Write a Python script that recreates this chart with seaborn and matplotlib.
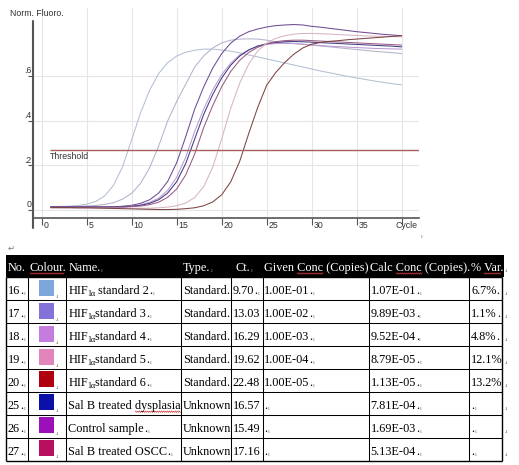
import numpy as np
import pandas as pd
import matplotlib
matplotlib.use("Agg")
import matplotlib.pyplot as plt
from matplotlib.transforms import blended_transform_factory
from matplotlib.patches import Rectangle
import seaborn as sns

# ---------------- chart data ----------------
cycles = list(range(1, 41))

std2 = [0.015, 0.016, 0.017, 0.020, 0.026, 0.038, 0.063, 0.112, 0.195, 0.315,
        0.437, 0.537, 0.611, 0.660, 0.689, 0.706, 0.715, 0.720, 0.720, 0.716,
        0.711, 0.703, 0.694, 0.685, 0.676, 0.667, 0.658, 0.649, 0.640, 0.631,
        0.622, 0.614, 0.606, 0.598, 0.591, 0.584, 0.577, 0.571, 0.565, 0.560]
std3 = [0.015, 0.015, 0.015, 0.016, 0.018, 0.020, 0.025, 0.033, 0.049, 0.075,
        0.120, 0.190, 0.287, 0.399, 0.486, 0.563, 0.640, 0.690, 0.725, 0.748,
        0.760, 0.765, 0.766, 0.765, 0.760, 0.752, 0.748, 0.745, 0.742, 0.738,
        0.734, 0.730, 0.726, 0.722, 0.718, 0.714, 0.710, 0.707, 0.704, 0.700]
control = [0.012, 0.012, 0.012, 0.012, 0.012, 0.012, 0.012, 0.014, 0.017, 0.021,
           0.030, 0.046, 0.076, 0.128, 0.212, 0.328, 0.452, 0.551, 0.635, 0.700,
           0.747, 0.778, 0.798, 0.810, 0.819, 0.825, 0.828, 0.830, 0.828, 0.822,
           0.818, 0.813, 0.808, 0.803, 0.798, 0.794, 0.790, 0.786, 0.783, 0.780]
std4 = [0.013, 0.013, 0.013, 0.013, 0.013, 0.013, 0.013, 0.013, 0.013, 0.018,
        0.023, 0.034, 0.053, 0.088, 0.147, 0.236, 0.352, 0.452, 0.537, 0.606,
        0.657, 0.694, 0.717, 0.732, 0.741, 0.745, 0.746, 0.745, 0.742, 0.739,
        0.736, 0.733, 0.731, 0.729, 0.727, 0.725, 0.723, 0.722, 0.721, 0.720]
dysplasia = [0.014, 0.014, 0.014, 0.014, 0.014, 0.014, 0.014, 0.014, 0.014, 0.017,
             0.021, 0.030, 0.046, 0.076, 0.127, 0.208, 0.318, 0.428, 0.517, 0.591,
             0.648, 0.689, 0.716, 0.734, 0.744, 0.750, 0.753, 0.754, 0.753, 0.751,
             0.749, 0.747, 0.745, 0.743, 0.741, 0.739, 0.737, 0.735, 0.733, 0.730]
oscc = [0.012, 0.012, 0.012, 0.012, 0.012, 0.012, 0.012, 0.012, 0.012, 0.015,
        0.018, 0.024, 0.035, 0.057, 0.094, 0.157, 0.251, 0.369, 0.467, 0.552,
        0.620, 0.670, 0.705, 0.728, 0.744, 0.753, 0.758, 0.760, 0.760, 0.758,
        0.756, 0.754, 0.752, 0.750, 0.748, 0.746, 0.744, 0.742, 0.740, 0.738]
std5 = [0.008, 0.008, 0.008, 0.008, 0.008, 0.008, 0.008, 0.008, 0.008, 0.008,
        0.008, 0.008, 0.010, 0.013, 0.019, 0.031, 0.056, 0.105, 0.191, 0.319,
        0.455, 0.568, 0.653, 0.712, 0.747, 0.768, 0.780, 0.787, 0.790, 0.790,
        0.789, 0.787, 0.785, 0.783, 0.781, 0.779, 0.778, 0.777, 0.776, 0.775]
std6 = [0.012, 0.011, 0.011, 0.010, 0.010, 0.009, 0.008, 0.007, 0.006, 0.005,
        0.004, 0.003, 0.002, 0.002, 0.003, 0.006, 0.010, 0.019, 0.036, 0.068,
        0.126, 0.218, 0.342, 0.459, 0.559, 0.615, 0.660, 0.697, 0.725, 0.742,
        0.750, 0.755, 0.758, 0.762, 0.765, 0.768, 0.771, 0.774, 0.777, 0.780]

curve_names = ["HIF standard 2", "HIF standard 3", "Control sample", "HIF standard 4",
               "Sal B treated dysplasia", "Sal B treated OSCC", "HIF standard 5",
               "HIF standard 6"]
curve_values = [std2, std3, control, std4, dysplasia, oscc, std5, std6]
curve_colors = ["#b3c0d2", "#b4b2cb", "#6e4c94", "#bb9ad3", "#403a84", "#9a5a84",
                "#d6b5c4", "#7c4444"]

threshold = 0.268
x_ticks = [0, 5, 10, 15, 20, 25, 30, 35, 40]
x_tick_labels = ["0", "5", "10", "15", "20", "25", "30", "35", "Cycle"]
y_ticks = [0, 0.2, 0.4, 0.6]
y_tick_labels = ["0", ".2", ".4", ".6"]

# ---------------- table data ----------------
header = ["No.", "Colour.", "Name.", "Type.", "Ct.", "Given Conc (Copies)",
          "Calc Conc (Copies).", "% Var."]
row_no = ["16", "17", "18", "19", "20", "25", "26", "27"]
row_colour = ["#7da7dc", "#8472d8", "#c47ddf", "#e385bd", "#b00010", "#0a10a8",
              "#9b10b8", "#b8105e"]
row_name = ["HIF{1α} standard 2", "HIF{1α}standard 3", "HIF{1α}standard 4",
            "HIF{1α}standard 5", "HIF{1α}standard 6", "Sal B treated dysplasia",
            "Control sample", "Sal B treated OSCC"]
row_type = ["Standard", "Standard", "Standard", "Standard", "Standard",
            "Unknown", "Unknown", "Unknown"]
row_ct = ["9.70", "13.03", "16.29", "19.62", "22.48", "16.57", "15.49", "17.16"]
row_given = ["1.00E-01", "1.00E-02", "1.00E-03", "1.00E-04", "1.00E-05", "", "", ""]
row_calc = ["1.07E-01", "9.89E-03", "9.52E-04", "8.79E-05", "1.13E-05",
            "7.81E-04", "1.69E-03", "5.13E-04"]
row_var = ["6.7%", "1.1%", "4.8%", "12.1%", "13.2%", "", "", ""]

# ---------------- figure ----------------
sns.set_theme(style="white")
plt.rcParams["font.family"] = ["Liberation Sans", "DejaVu Sans"]

W, H = 519, 465
fig = plt.figure(figsize=(W / 100, H / 100), dpi=100)
fig.patch.set_facecolor("white")

ax2 = fig.add_axes([0, 0, 1, 1], zorder=0)
ax2.set_xlim(0, W)
ax2.set_ylim(H, 0)
ax2.axis("off")

ax = fig.add_axes([33 / W, 1 - 218 / H, 386 / W, 210 / H], zorder=1)

rows = []
for name, vals in zip(curve_names, curve_values):
    for c, v in zip(cycles, vals):
        rows.append((name, c, v))
df = pd.DataFrame(rows, columns=["sample", "cycle", "fluoro"])

sns.lineplot(data=df, x="cycle", y="fluoro", hue="sample", hue_order=curve_names,
             palette=curve_colors, linewidth=0.75, legend=False, estimator=None, ax=ax)

x0, x1 = -0.967, 41.92
ax.set_xlim(x0, x1)
ax.set_ylim(-0.0358, 0.904)
ax.set_xlabel("")
ax.set_ylabel("")
ax.set_xticks(x_ticks)
ax.set_yticks(y_ticks)
ax.grid(True, color="#e6e6e6", linewidth=0.8)
ax.set_axisbelow(True)
ax.tick_params(axis="x", direction="out", length=5, width=0.8, colors="#555555",
               labelbottom=False, bottom=True)
ax.tick_params(axis="y", direction="out", length=3.6, width=0.8, colors="#555555",
               labelleft=False, left=True)
for s in ["top", "right", "left"]:
    ax.spines[s].set_visible(False)
ax.spines["bottom"].set_color("#555555")
ax.spines["bottom"].set_linewidth(1.2)
ax.axvline(x=x0, ymin=-0.048, ymax=0.94, color="#555555", lw=1.5, clip_on=False)

# threshold
ax.hlines(threshold, 0.92, x1, color="#a8605c", lw=1.0)
txt_col = "#333333"
cfs = 6.3
ax.text(0.92, threshold - 0.008, "Threshold", ha="left", va="top", fontsize=cfs,
        color=txt_col)

tx = blended_transform_factory(ax.transData, ax.transAxes)
for t, lab in zip(x_ticks, x_tick_labels):
    xx = t + 0.2 if lab != "Cycle" else t - 0.7
    ax.text(xx, -0.038, lab, transform=tx, ha="left", va="center", fontsize=cfs,
            color=txt_col, clip_on=False)
ty = blended_transform_factory(ax.transAxes, ax.transData)
for v, lab in zip(y_ticks, y_tick_labels):
    ax.text(-0.003, v + 0.003, lab, transform=ty, ha="right", va="bottom",
            fontsize=cfs, color=txt_col, clip_on=False)

fig.text(10 / W, 1 - 14 / H, "Norm. Fluoro.", ha="left", va="center", fontsize=cfs,
         color=txt_col)

# small formatting marks
ax2.text(421, 237.5, "ı", fontsize=4.5, color="#777777", family="Liberation Serif",
         ha="left", va="baseline")
ax2.text(8, 251, "↵", fontsize=6, color="#777777", family="DejaVu Sans",
         ha="left", va="baseline")

# ---------------- table ----------------
serif = "Liberation Serif"
fs = 8.8
renderer = fig.canvas.get_renderer()


def put(x, y, s, size=fs, color="black", family=serif):
    t = ax2.text(x, y, s, fontsize=size, color=color, family=family,
                 ha="left", va="baseline")
    return t.get_window_extent(renderer).x1


def text_width(s, size=fs, family=serif):
    t = ax2.text(0, 0, s, fontsize=size, family=family)
    w = t.get_window_extent(renderer).width
    t.remove()
    return w


def marker(x, y, right, color="black"):
    if right - x > 3.5:
        x = put(x, y, ".", color=color)
        if right - x > 3.0:
            put(x + 0.5, y + 1, "ı", size=4.5, color="#777777")


def tick_mark(x, y, right):
    if right - x > 4:
        put(x + 0.8, y + 1, "ı", size=4.5, color="#888888")


def squiggle(xa, xb, y):
    xs = np.arange(xa, xb + 0.01, 1.0)
    ys = y + 0.7 * np.where(np.arange(len(xs)) % 2 == 0, -1, 1)
    ax2.plot(xs, ys, color="#d03838", lw=0.5)


def draw_name(x, y, s):
    if "{" in s:
        pre, rest = s.split("{", 1)
        sub, post = rest.split("}", 1)
        x = put(x, y, pre)
        x = put(x - 0.8, y + 2.0, sub, size=5.8)
        if post.startswith(" "):
            x += 3.0
            post = post[1:]
        return put(x - 0.3, y, post)
    return put(x, y, s)


col_edges = [6, 28.3, 66, 180.7, 231, 262.7, 369.3, 469, 502.3]
header_x = [7.5, 30, 68.3, 182.7, 235, 264, 370.5, 471]
head_top, head_bot = 255, 277.3
row_h = 22.9

ax2.add_patch(Rectangle((6, head_top), 497.5, head_bot - head_top,
                        facecolor="black", edgecolor="none"))
hb = 270.5
for i, (hx, h) in enumerate(zip(header_x, header)):
    e = put(hx, hb, h, color="white")
    tick_mark(e, hb, col_edges[i + 1])
put(505, hb + 1, ".ı", size=4.5, color="#777777")

# spell-check squiggles in header
squiggle(30, 30 + text_width("Colour"), hb + 3)
for hx, h in [(264, "Given Conc"), (370.5, "Calc Conc")]:
    end = hx + text_width(h)
    squiggle(end - text_width("Conc"), end, hb + 3)
vend = 471 + text_width("% Var")
squiggle(vend - text_width("Var"), vend, hb + 3)

for r in range(len(row_no)):
    top = head_bot + r * row_h
    bot = top + row_h
    base = bot - 6
    e = put(8, base, row_no[r])
    marker(e, base, col_edges[1])
    ax2.add_patch(Rectangle((39, top + 2.5), 15, 16, facecolor=row_colour[r],
                            edgecolor="none"))
    put(55.5, top + 20.5, ".ı", size=4.5, color="#777777")
    e = draw_name(68.5, base, row_name[r])
    marker(e, base, col_edges[3])
    if "dysplasia" in row_name[r]:
        squiggle(e - text_width("dysplasia"), e, base + 3)
    e = put(182.7, base, row_type[r])
    marker(e, base, col_edges[4])
    e = put(232.7, base, row_ct[r])
    marker(e, base, col_edges[5])
    e = put(264, base, row_given[r]) if row_given[r] else 264
    marker(e, base, col_edges[6])
    e = put(370.7, base, row_calc[r]) if row_calc[r] else 370.7
    marker(e, base, col_edges[7])
    e = put(471.3, base, row_var[r]) if row_var[r] else 471.3
    marker(e, base, col_edges[8])
    put(505, base + 1, ".ı", size=4.5, color="#777777")

table_bot = head_bot + len(row_no) * row_h
for i in range(len(row_no) + 1):
    yy = head_bot + i * row_h
    lw = 1.0 if i in (0, len(row_no)) else 0.75
    ax2.plot([col_edges[0], col_edges[-1]], [yy, yy], color="black", lw=lw,
             solid_capstyle="butt")
for j, xx in enumerate(col_edges):
    lw = 1.0 if j in (0, len(col_edges) - 1) else 0.75
    ax2.plot([xx, xx], [head_bot, table_bot], color="black", lw=lw,
             solid_capstyle="butt")

fig.savefig("out.png", dpi=100, facecolor="white")
